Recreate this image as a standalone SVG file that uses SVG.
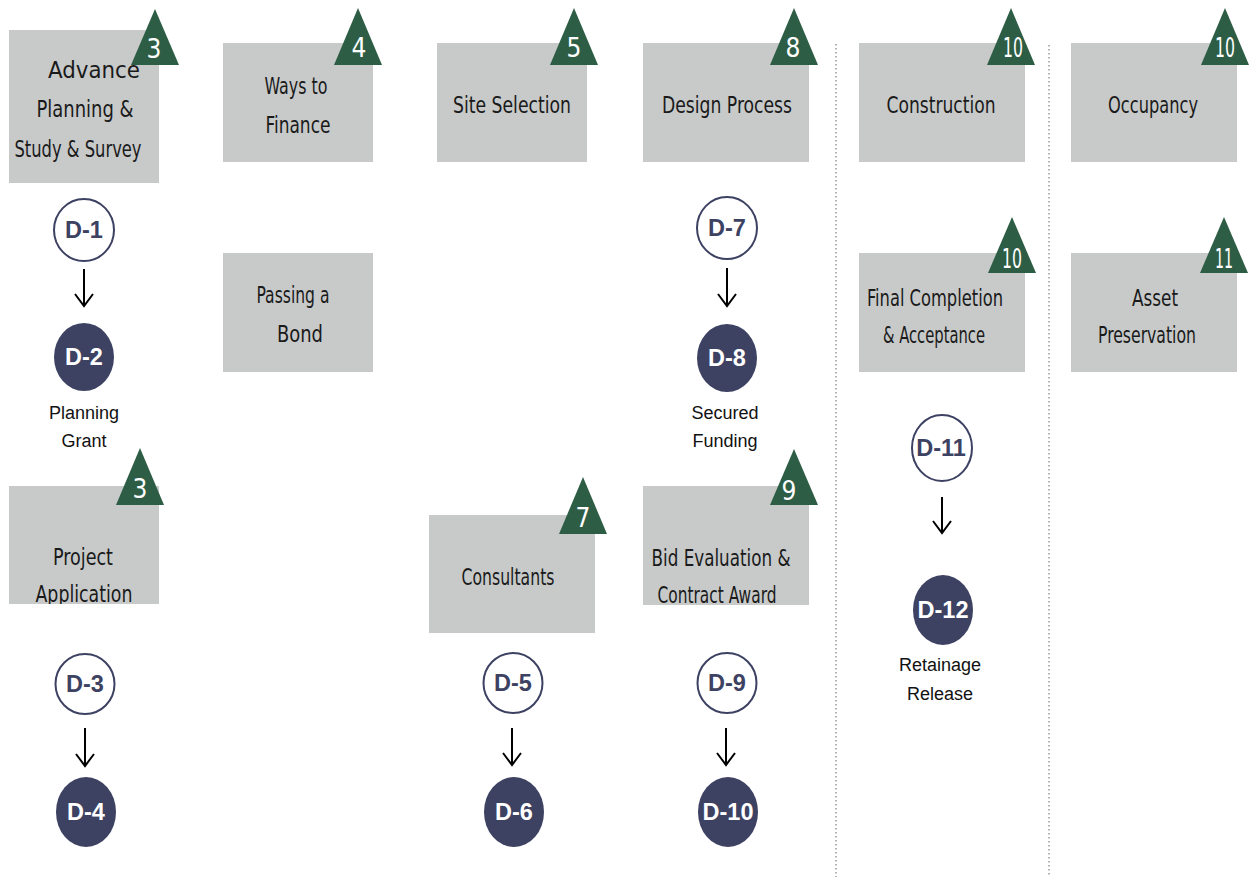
<svg xmlns="http://www.w3.org/2000/svg" width="1251" height="877" viewBox="0 0 1251 877">
<style>
.box{fill:#C8CACA}
.tri{fill:#2E5D45}
.bt{font-family:"Liberation Sans Narrow","DejaVu Sans Condensed","Liberation Sans",sans-serif;font-size:23px;fill:#1A1A1A;text-anchor:middle}
.num{font-family:"Liberation Sans Narrow","DejaVu Sans Condensed","Liberation Sans",sans-serif;font-size:26px;fill:#FFFFFF;text-anchor:middle}
.oc{fill:#FFFFFF;stroke:#3D4162;stroke-width:2}
.fc{fill:#3D4162}
.dl{font-family:"Liberation Sans",Arial,sans-serif;font-weight:bold;font-size:23.5px;text-anchor:middle}
.dlo{fill:#3D4162}
.dlf{fill:#FFFFFF}
.cap{font-family:"Liberation Sans",Arial,sans-serif;font-size:18px;fill:#111111;text-anchor:middle}
.div{stroke:#9A9A9A;stroke-width:1.5;stroke-dasharray:1.5 2.5;fill:none}
.arr{stroke:#000000;stroke-width:2;fill:none;marker-end:url(#chev)}
</style>
<defs>
<marker id="chev" viewBox="0 0 24 24" refX="14" refY="12" markerWidth="24" markerHeight="24" markerUnits="userSpaceOnUse" orient="auto">
<path d="M2,3 L14,12 L2,21" fill="none" stroke="#000000" stroke-width="2"/>
</marker>
<clipPath id="clipApp"><rect x="9" y="486" width="150" height="118"/></clipPath>
<clipPath id="clipBid"><rect x="643" y="486" width="166" height="119"/></clipPath>
</defs>
<rect width="1251" height="877" fill="#FFFFFF"/>

<g id="dividers">
<line class="div" x1="836" y1="44" x2="836" y2="877"/>
<line class="div" x1="1049" y1="45" x2="1049" y2="877"/>
</g>

<g id="n-advance">
<rect class="box" x="9" y="30" width="150" height="153"/>
<polygon class="tri" points="155,9 131,65 179,65"/>
<text class="num" x="154" y="58">3</text>
<text class="bt" x="94" y="78" textLength="92" lengthAdjust="spacingAndGlyphs">Advance</text>
<text class="bt" x="85" y="117" textLength="97" lengthAdjust="spacingAndGlyphs">Planning &amp;</text>
<text class="bt" x="78" y="157" textLength="127" lengthAdjust="spacingAndGlyphs">Study &amp; Survey</text>
</g>

<g id="n-finance">
<rect class="box" x="223" y="43" width="150" height="119"/>
<polygon class="tri" points="358,8 334,65 382,65"/>
<text class="num" x="359" y="57">4</text>
<text class="bt" x="296" y="94" textLength="63" lengthAdjust="spacingAndGlyphs">Ways to</text>
<text class="bt" x="298" y="133" textLength="65" lengthAdjust="spacingAndGlyphs">Finance</text>
</g>

<g id="n-site">
<rect class="box" x="437" y="43" width="150" height="119"/>
<polygon class="tri" points="574,8 550,65 598,65"/>
<text class="num" x="574" y="57">5</text>
<text class="bt" x="512" y="113" textLength="118" lengthAdjust="spacingAndGlyphs">Site Selection</text>
</g>

<g id="n-design">
<rect class="box" x="643" y="43" width="166" height="119"/>
<polygon class="tri" points="794,8 770,65 818,65"/>
<text class="num" x="793" y="57">8</text>
<text class="bt" x="727" y="113" textLength="130" lengthAdjust="spacingAndGlyphs">Design Process</text>
</g>

<g id="n-construction">
<rect class="box" x="859" y="43" width="166" height="119"/>
<polygon class="tri" points="1011,8 987,65 1035,65"/>
<text class="num" x="1013" y="57" textLength="20" lengthAdjust="spacingAndGlyphs">10</text>
<text class="bt" x="941" y="113" textLength="109" lengthAdjust="spacingAndGlyphs">Construction</text>
</g>

<g id="n-occupancy">
<rect class="box" x="1071" y="43" width="166" height="119"/>
<polygon class="tri" points="1225,8 1201,65 1249,65"/>
<text class="num" x="1225" y="57" textLength="20" lengthAdjust="spacingAndGlyphs">10</text>
<text class="bt" x="1153" y="113" textLength="90" lengthAdjust="spacingAndGlyphs">Occupancy</text>
</g>

<g id="n-bond">
<rect class="box" x="223" y="253" width="150" height="119"/>
<text class="bt" x="293" y="303" textLength="73" lengthAdjust="spacingAndGlyphs">Passing a</text>
<text class="bt" x="300" y="342" textLength="46" lengthAdjust="spacingAndGlyphs">Bond</text>
</g>

<g id="n-final">
<rect class="box" x="859" y="253" width="166" height="119"/>
<polygon class="tri" points="1012,217 988,273 1036,273"/>
<text class="num" x="1012" y="268" textLength="20" lengthAdjust="spacingAndGlyphs">10</text>
<text class="bt" x="935" y="306" textLength="136" lengthAdjust="spacingAndGlyphs">Final Completion</text>
<text class="bt" x="934" y="343" textLength="102" lengthAdjust="spacingAndGlyphs">&amp; Acceptance</text>
</g>

<g id="n-asset">
<rect class="box" x="1071" y="253" width="166" height="119"/>
<polygon class="tri" points="1224,217 1200,273 1248,273"/>
<text class="num" x="1224" y="268" textLength="18" lengthAdjust="spacingAndGlyphs">11</text>
<text class="bt" x="1155" y="306" textLength="46" lengthAdjust="spacingAndGlyphs">Asset</text>
<text class="bt" x="1147" y="343" textLength="98" lengthAdjust="spacingAndGlyphs">Preservation</text>
</g>

<g id="n-project">
<rect class="box" x="9" y="486" width="150" height="118"/>
<polygon class="tri" points="140,448 116,505 164,505"/>
<text class="num" x="140" y="498">3</text>
<text class="bt" x="83" y="565" textLength="60" lengthAdjust="spacingAndGlyphs">Project</text>
<text class="bt" x="84" y="602" textLength="97" lengthAdjust="spacingAndGlyphs" clip-path="url(#clipApp)">Application</text>
</g>

<g id="n-consultants">
<rect class="box" x="429" y="515" width="166" height="118"/>
<polygon class="tri" points="583,477 559,534 607,534"/>
<text class="num" x="583" y="527">7</text>
<text class="bt" x="508" y="585" textLength="93" lengthAdjust="spacingAndGlyphs">Consultants</text>
</g>

<g id="n-bid">
<rect class="box" x="643" y="486" width="166" height="119"/>
<polygon class="tri" points="794,449 770,505 818,505"/>
<text class="num" x="789" y="500">9</text>
<text class="bt" x="721" y="566" textLength="139" lengthAdjust="spacingAndGlyphs">Bid Evaluation &amp;</text>
<text class="bt" x="717" y="603" textLength="119" lengthAdjust="spacingAndGlyphs" clip-path="url(#clipBid)">Contract Award</text>
</g>

<g id="d1"><ellipse class="oc" cx="84" cy="230" rx="30" ry="31"/><text class="dl dlo" x="84" y="238">D-1</text></g>
<g id="d2"><ellipse class="fc" cx="84" cy="357" rx="30" ry="34"/><text class="dl dlf" x="84" y="365">D-2</text>
<text class="cap" x="84" y="419">Planning</text><text class="cap" x="84" y="447">Grant</text></g>

<g id="d7"><ellipse class="oc" cx="727" cy="228" rx="30" ry="31"/><text class="dl dlo" x="727" y="236">D-7</text></g>
<g id="d8"><ellipse class="fc" cx="727" cy="358" rx="30" ry="34"/><text class="dl dlf" x="727" y="366">D-8</text>
<text class="cap" x="725" y="419">Secured</text><text class="cap" x="725" y="447">Funding</text></g>

<g id="d11"><ellipse class="oc" cx="942" cy="448" rx="30" ry="33"/><text class="dl dlo" x="941" y="456">D-11</text></g>
<g id="d12"><ellipse class="fc" cx="943" cy="610" rx="30" ry="35"/><text class="dl dlf" x="943" y="618">D-12</text>
<text class="cap" x="940" y="671">Retainage</text><text class="cap" x="940" y="700">Release</text></g>

<g id="d3"><ellipse class="oc" cx="85" cy="684" rx="29.5" ry="30"/><text class="dl dlo" x="85" y="692">D-3</text></g>
<g id="d4"><ellipse class="fc" cx="86" cy="812" rx="30" ry="35"/><text class="dl dlf" x="86" y="820">D-4</text></g>

<g id="d5"><ellipse class="oc" cx="513" cy="683" rx="29.5" ry="30"/><text class="dl dlo" x="513" y="691">D-5</text></g>
<g id="d6"><ellipse class="fc" cx="514" cy="812" rx="30" ry="35"/><text class="dl dlf" x="514" y="820">D-6</text></g>

<g id="d9"><ellipse class="oc" cx="727" cy="683" rx="29.5" ry="30"/><text class="dl dlo" x="727" y="691">D-9</text></g>
<g id="d10"><ellipse class="fc" cx="728" cy="812" rx="30" ry="35"/><text class="dl dlf" x="728" y="820">D-10</text></g>

<g id="connectors">
<path class="arr" d="M84,269 V306"/>
<path class="arr" d="M727,268 V306"/>
<path class="arr" d="M942,497 V533"/>
<path class="arr" d="M85,728 V766"/>
<path class="arr" d="M512,728 V765"/>
<path class="arr" d="M726,728 V765"/>
</g>
</svg>
